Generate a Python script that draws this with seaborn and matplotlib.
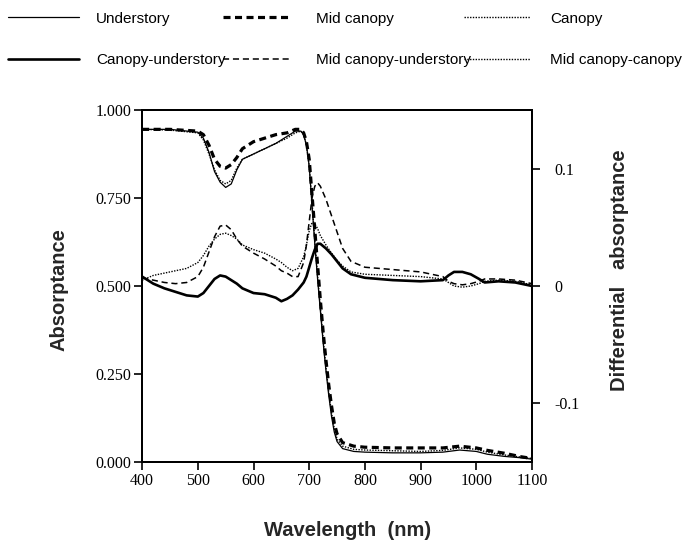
import matplotlib
matplotlib.use("Agg")
import matplotlib.pyplot as plt
import seaborn as sns

# absorptance spectra (left axis)
wl_abs = [400, 450, 500, 510, 520, 530, 540, 550, 560, 570, 580, 600, 620, 640,
          660, 675, 685, 690, 695, 700, 705, 710, 715, 720, 725, 730, 735, 740,
          745, 750, 760, 780, 800, 850, 900, 940, 970, 1000, 1020, 1050, 1080, 1100]
understory = [.945, .945, .937, .92, .88, .825, .795, .78, .79, .83, .86, .875, .89, .905,
              .925, .94, .94, .93, .90, .84, .73, .62, .52, .43, .34, .26, .19, .13,
              .085, .058, .038, .03, .028, .026, .026, .028, .034, .03, .022, .016, .012, .008]
mid_canopy = [.945, .945, .94, .93, .90, .86, .84, .835, .845, .865, .89, .91, .92, .93,
              .935, .945, .945, .935, .91, .86, .76, .66, .56, .46, .37, .29, .22, .16,
              .11, .08, .055, .045, .042, .04, .04, .04, .045, .04, .033, .025, .015, .01]
canopy = [.945, .943, .935, .915, .875, .83, .80, .79, .80, .835, .86, .875, .89, .905,
          .92, .935, .94, .93, .90, .84, .74, .63, .53, .44, .35, .27, .20, .14,
          .095, .065, .045, .036, .034, .032, .03, .033, .04, .036, .028, .02, .014, .01]

# differential absorptance (right axis)
wl_diff = [400, 420, 440, 460, 480, 500, 510, 520, 530, 540, 550, 560, 570, 580, 600,
           620, 640, 650, 660, 670, 680, 690, 695, 700, 705, 710, 715, 720, 730, 740,
           750, 760, 775, 800, 850, 900, 940, 950, 960, 975, 990, 1005, 1015, 1040, 1070, 1100]
canopy_minus_under = [.008, .002, -.002, -.005, -.008, -.009, -.006, .0, .006, .009, .008, .005,
                      .002, -.002, -.006, -.007, -.010, -.013, -.011, -.008, -.003, .003, .008,
                      .016, .024, .031, .036, .036, .032, .027, .021, .015, .010, .007, .005,
                      .004, .005, .009, .012, .012, .010, .006, .003, .004, .003, .0]
mid_minus_under = [.007, .005, .003, .002, .003, .008, .016, .029, .042, .051, .052, .048,
                   .040, .034, .028, .023, .017, .013, .011, .008, .008, .020, .035,
                   .055, .075, .085, .088, .085, .074, .060, .046, .032, .021, .016, .014,
                   .012, .008, .004, .002, .001, .002, .004, .006, .006, .005, .002]
mid_minus_canopy = [.005, .009, .011, .013, .015, .020, .026, .034, .040, .044, .045, .043,
                    .040, .035, .031, .028, .023, .020, .016, .013, .015, .025, .035,
                    .047, .054, .053, .049, .043, .035, .028, .022, .017, .012, .010, .009,
                    .008, .006, .003, .0, -.001, .0, .002, .004, .005, .004, .001]

abs_ticks = [0.0, 0.25, 0.5, 0.75, 1.0]
diff_ticks = [-0.1, 0.0, 0.1]
diff_labels = ["-0.1", "0", "0.1"]
wl_ticks = [400, 500, 600, 700, 800, 900, 1000, 1100]

sns.set_style("ticks")
plt.rcParams["font.family"] = ["Liberation Sans", "DejaVu Sans"]

SERIF = "Liberation Serif"
LABEL_FONT = dict(family="Liberation Sans", fontsize=14.5, fontweight="bold")

fig = plt.figure(figsize=(6.9, 5.5), dpi=100)
ax = fig.add_axes([0.206, 0.16, 0.565, 0.64])
ax2 = ax.twinx()

styles = {
    "thin_solid": dict(color="black", lw=0.9, linestyle="-"),
    "thick_dash": dict(color="black", lw=2.3, linestyle=(0, (2.2, 1.4))),
    "dotted": dict(color="black", lw=1.0, linestyle=(0, (1, 1))),
    "thick_solid": dict(color="black", lw=1.9, linestyle="-"),
    "thin_dash": dict(color="black", lw=1.1, linestyle=(0, (4, 2.5))),
}

sns.lineplot(x=wl_abs, y=understory, ax=ax, **styles["thin_solid"])
sns.lineplot(x=wl_abs, y=mid_canopy, ax=ax, **styles["thick_dash"])
sns.lineplot(x=wl_abs, y=canopy, ax=ax, **styles["dotted"])
sns.lineplot(x=wl_diff, y=canopy_minus_under, ax=ax2, **styles["thick_solid"])
sns.lineplot(x=wl_diff, y=mid_minus_under, ax=ax2, **styles["thin_dash"])
sns.lineplot(x=wl_diff, y=mid_minus_canopy, ax=ax2, **styles["dotted"])

ax.set_xlim(400, 1100)
ax.set_ylim(0, 1.0)
ax2.set_ylim(-0.15, 0.15)

ax.set_xticks(wl_ticks)
ax.set_xticklabels([str(t) for t in wl_ticks], family=SERIF, fontsize=11.5)
ax.set_yticks(abs_ticks)
ax.set_yticklabels([f"{t:.3f}" for t in abs_ticks], family=SERIF, fontsize=11.5)
ax2.set_yticks(diff_ticks)
ax2.set_yticklabels(diff_labels, family=SERIF, fontsize=11.5)

ax.tick_params(axis="both", direction="out", length=6, width=1.2, pad=2, colors="black")
ax2.tick_params(axis="y", direction="out", length=6, width=1.2, pad=10, colors="black")

for a in (ax, ax2):
    for sp in a.spines.values():
        sp.set_visible(True)
        sp.set_linewidth(1.4)
        sp.set_color("black")

ax.set_xlabel("Wavelength  (nm)", **LABEL_FONT)
ax.xaxis.set_label_coords(0.526, -0.168)
ax.set_ylabel("Absorptance", **LABEL_FONT)
ax.yaxis.set_label_coords(-0.19, 0.49)
ax2.set_ylabel("Differential   absorptance", **LABEL_FONT)
ax2.yaxis.set_label_coords(1.2, 0.545)

# legend: three columns of two entries across the top
lines_abs = ax.get_lines()
lines_diff = ax2.get_lines()
leg_cols = [
    ([lines_abs[0], lines_diff[0]], ["Understory", "Canopy-understory"], 0.012, 4.6, 1.15),
    ([lines_abs[1], lines_diff[1]], ["Mid canopy", "Mid canopy-understory"], 0.323, 4.55, 1.55),
    ([lines_abs[2], lines_diff[2]], ["Canopy", "Mid canopy-canopy"], 0.672, 4.36, 1.3),
]
for handles, labels, x0, hlen, hpad in leg_cols:
    leg = fig.legend(handles, labels, loc="upper left", bbox_to_anchor=(x0, 0.979),
                     frameon=False, fontsize=11.0, handlelength=hlen, handletextpad=hpad,
                     borderpad=0, borderaxespad=0, labelspacing=1.8)
    for t in leg.get_texts():
        t.set_color("black")

fig.savefig("out.png", dpi=100, facecolor="white")
